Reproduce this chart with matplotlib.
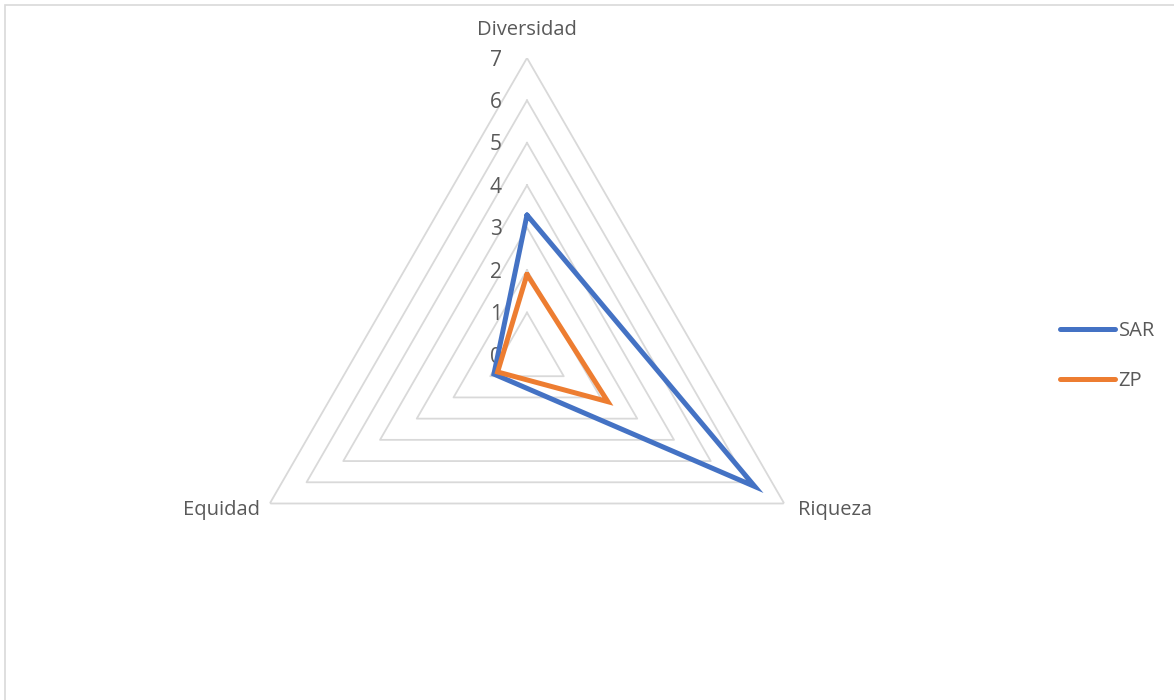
import numpy as np
import matplotlib
matplotlib.use("Agg")
import matplotlib.pyplot as plt
from matplotlib.patches import Rectangle

categories = ["Diversidad", "Riqueza", "Equidad"]
series_names = ["SAR", "ZP"]
sar_values = [3.3, 6.2, 0.9]
zp_values = [1.9, 2.2, 0.8]
tick_values = [0, 1, 2, 3, 4, 5, 6, 7]

colors = {"SAR": "#4472C4", "ZP": "#ED7D31"}
grid_color = "#D9D9D9"
text_color = "#595959"
font = "Open Sans"

fig = plt.figure(figsize=(11.74, 7.0), dpi=100)
fig.patches.append(Rectangle((5 / 1174, -0.01), 1.1, (700 - 5) / 700 + 0.01,
                             transform=fig.transFigure, fill=False,
                             edgecolor="#D9D9D9", linewidth=1.2))

ax = fig.add_axes([230 / 1174, 48 / 700, 594 / 1174, 594 / 700], projection="polar")
ax.set_theta_offset(np.pi / 2)
ax.set_theta_direction(-1)
ax.set_ylim(0, 7)
ax.grid(False)
ax.spines["polar"].set_visible(False)
ax.set_xticks([])
ax.set_yticks([])
ax.patch.set_alpha(0)

n = len(categories)
angles = np.arange(n) * 2 * np.pi / n
closed_angles = np.append(angles, angles[0])

# polygonal gridlines
for t in tick_values[1:]:
    ax.plot(closed_angles, [t] * (n + 1), color=grid_color, linewidth=1.3, zorder=1)

# radial axis labels along the first spoke
for t in tick_values:
    ax.annotate(str(t), xy=(0, t), xytext=(-18, -1.5), textcoords="offset points",
                ha="right", va="center", fontsize=15, color=text_color,
                family=font, annotation_clip=False)

# category labels
ax.annotate(categories[0], xy=(angles[0], 7), xytext=(0, 20), textcoords="offset points",
            ha="center", va="center", fontsize=14.5, color=text_color, family=font,
            annotation_clip=False)
ax.annotate(categories[1], xy=(angles[1], 7), xytext=(10, -5), textcoords="offset points",
            ha="left", va="center", fontsize=14.5, color=text_color, family=font,
            annotation_clip=False)
ax.annotate(categories[2], xy=(angles[2], 7), xytext=(-7, -5), textcoords="offset points",
            ha="right", va="center", fontsize=14.5, color=text_color, family=font,
            annotation_clip=False)

handles = []
for name, vals in zip(series_names, [sar_values, zp_values]):
    h, = ax.plot(closed_angles, vals + vals[:1], color=colors[name], linewidth=3.6,
                 solid_joinstyle="miter", solid_capstyle="round", zorder=3, label=name)
    handles.append(h)

leg = fig.legend(handles=handles, loc="center left", bbox_to_anchor=(1052 / 1174, 1 - 356 / 700),
                 frameon=False, handlelength=2.75, handletextpad=0.15, labelspacing=1.45,
                 borderaxespad=0, prop={"family": font, "size": 14.5})
for t in leg.get_texts():
    t.set_color(text_color)

fig.savefig("out.png", dpi=100)
